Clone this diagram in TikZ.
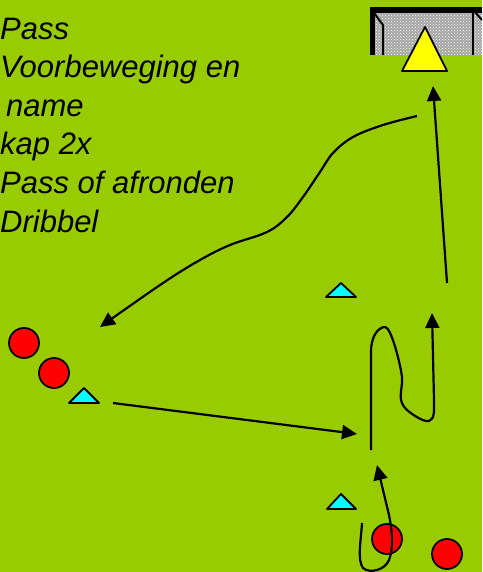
\documentclass[tikz,border=0pt]{standalone}
\usepackage{fontspec}
\setmainfont{Liberation Sans}
\usetikzlibrary{arrows.meta,patterns}
\definecolor{field}{RGB}{153,204,0}
\definecolor{cone}{RGB}{0,255,255}
\definecolor{ball}{RGB}{255,0,0}
\definecolor{keeper}{RGB}{255,255,0}
\tikzset{
  lbl/.style={anchor=base west,inner sep=0pt,font=\fontsize{31}{38}\selectfont\itshape},
  conebox/.style={draw=black,line width=1.8pt,fill=cone,line join=round},
  player/.style={circle,draw=black,line width=1.8pt,fill=ball,minimum size=30pt,inner sep=0pt},
  run/.style={line width=2.2pt,-{Triangle[length=15pt,width=14pt]}},
  plain/.style={line width=2.2pt}
}
\begin{document}
\begin{tikzpicture}[x=1pt,y=-1pt]
\useasboundingbox (0,0) rectangle (482,572);
\clip (0,0) rectangle (482,572);
\fill[field] (0,0) rectangle (482,572);
% text
\node[lbl] (t1) at (0,40) {Pass};
\node[lbl] (t2) at (0,78) {Voorbeweging en};
\node[lbl] (t3) at (6,117) {name};
\node[lbl] (t4) at (0,155) {kap 2x};
\node[lbl] (t5) at (0,193) {Pass of afronden};
\node[lbl] (t6) at (0,232) {Dribbel};
% goal
\fill[gray!70] (372,10) rectangle (482,55);
\fill[pattern=crosshatch dots,pattern color=white] (372,10) rectangle (482,55);
\fill[black] (370,7) rectangle (482,13);
\fill[black] (370,7) rectangle (375,55);
\draw[line width=2pt] (374,13) -- (383,25) -- (383,55);
\draw[line width=2.5pt] (473,10) -- (473,55);
\draw[line width=2pt] (474,11) -- (482,20);
% keeper
\filldraw[fill=keeper,draw=black,line width=1.8pt,line join=round] (425,27) -- (447,71) -- (402,71) -- cycle;
% cones
\filldraw[conebox] (341,283) -- (356,297) -- (326,297) -- cycle;
\filldraw[conebox] (84,388) -- (99,403) -- (69,403) -- cycle;
\filldraw[conebox] (341,494) -- (356,509) -- (327,509) -- cycle;
% players
\node[player] (p1) at (24,343) {};
\node[player] (p2) at (54,373) {};
\node[player] (p3) at (387,539) {};
\node[player] (p4) at (447,554) {};
% connectors
\coordinate (a1s) at (417,116);
\coordinate (a1e) at (100,327);
\draw[run] plot[smooth,tension=0.6] coordinates {(a1s) (383,125) (353,137) (333,153) (320,172) (303,197) (287,217) (267,232) (230,245) (200,260) (163,283) (a1e)};
\coordinate (a2s) at (113,403);
\coordinate (a2e) at (357,434);
\draw[run] (a2s) -- (a2e);
\coordinate (a3s) at (447,283);
\coordinate (a3e) at (433,86);
\draw[run] (a3s) -- (a3e);
\coordinate (a4s) at (371,450);
\coordinate (a4e) at (432,313);
\draw[run] (a4s) -- (371,352) .. controls (371,335) and (379,327) .. (385,327)
  .. controls (391,327) and (400,362) .. (402,377)
  .. controls (403,390) and (396,400) .. (407,410)
  .. controls (414,416) and (424,422) .. (429,421)
  .. controls (435,419) and (434,410) .. (434,400) -- (a4e);
\coordinate (a5s) at (362,523);
\coordinate (a5e) at (377,465);
\draw[run] (a5s) .. controls (361,540) and (357,560) .. (363,568)
  .. controls (370,574) and (385,570) .. (389,560)
  .. controls (393,550) and (393,535) .. (389,515) -- (a5e);
\end{tikzpicture}
\end{document}
